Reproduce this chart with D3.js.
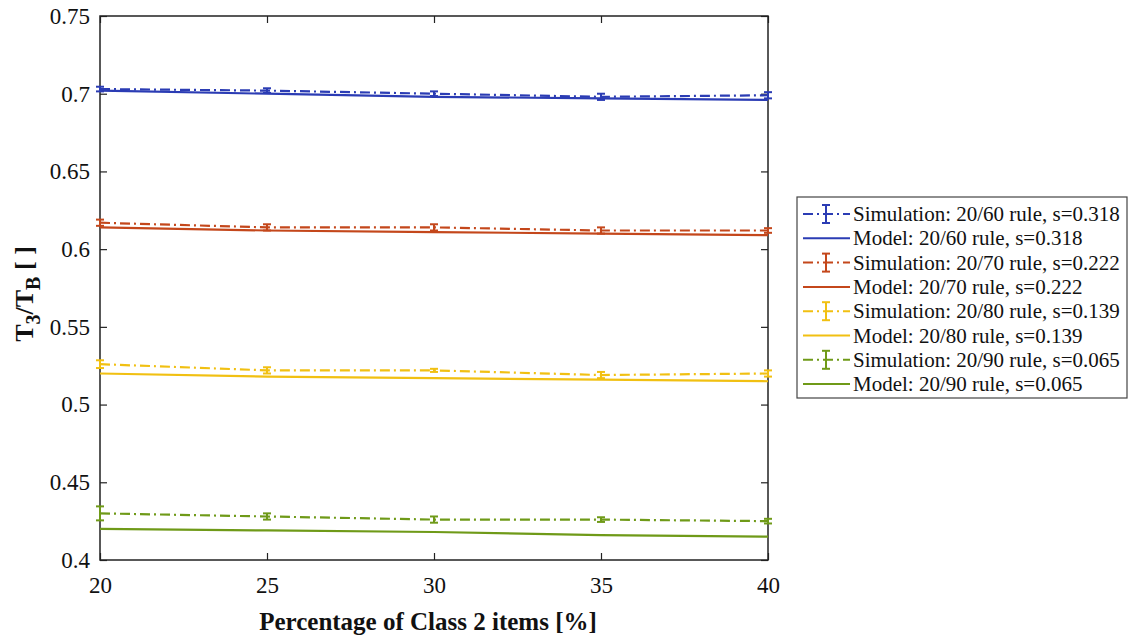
<!DOCTYPE html>
<html>
<head>
<meta charset="utf-8">
<script src="https://cdn.jsdelivr.net/npm/d3@7"></script>
<style>
  body { margin: 0; background: #fff; }
  svg { display: block; }
  svg text { font-family: "Liberation Serif", "DejaVu Serif", serif; }
</style>
</head>
<body>
<svg width="1130" height="639"></svg>
<script>
// data
var xValues = [20, 25, 30, 35, 40];
var simBlue   = [0.703, 0.702, 0.700, 0.698, 0.699];
var modelBlue = [0.702, 0.700, 0.698, 0.697, 0.696];
var errBlue   = [0.0015, 0.0015, 0.0015, 0.002, 0.002];
var simRed    = [0.617, 0.614, 0.614, 0.612, 0.612];
var modelRed  = [0.614, 0.612, 0.611, 0.610, 0.609];
var errRed    = [0.002, 0.002, 0.002, 0.002, 0.0015];
var simYellow   = [0.526, 0.522, 0.522, 0.519, 0.520];
var modelYellow = [0.520, 0.518, 0.517, 0.516, 0.515];
var errYellow   = [0.0025, 0.002, 0.001, 0.002, 0.002];
var simGreen   = [0.430, 0.428, 0.426, 0.426, 0.425];
var modelGreen = [0.420, 0.419, 0.418, 0.416, 0.415];
var errGreen   = [0.0045, 0.002, 0.002, 0.0015, 0.0015];
var yTicks = [0.4, 0.45, 0.5, 0.55, 0.6, 0.65, 0.7, 0.75];
var xTicks = [20, 25, 30, 35, 40];
var legendLabels = [
  'Simulation: 20/60 rule, s=0.318', 'Model: 20/60 rule, s=0.318',
  'Simulation: 20/70 rule, s=0.222', 'Model: 20/70 rule, s=0.222',
  'Simulation: 20/80 rule, s=0.139', 'Model: 20/80 rule, s=0.139',
  'Simulation: 20/90 rule, s=0.065', 'Model: 20/90 rule, s=0.065'
];

var series = [
  {color: '#2b3cb4', sim: simBlue, model: modelBlue, err: errBlue},
  {color: '#c4471b', sim: simRed, model: modelRed, err: errRed},
  {color: '#f1c012', sim: simYellow, model: modelYellow, err: errYellow},
  {color: '#6f9a18', sim: simGreen, model: modelGreen, err: errGreen}
];

var svg = d3.select('svg');
var plotL = 100, plotR = 768, plotT = 16, plotB = 560;

var x = d3.scaleLinear().domain([20, 40]).range([plotL, plotR]);
var y = d3.scaleLinear().domain([0.4, 0.75]).range([plotB, plotT]);

var dashDot = '10,4,2,4';

// axes with inward ticks
var axisG = svg.append('g');
axisG.append('g')
  .attr('transform', 'translate(0,' + plotB + ')')
  .call(d3.axisBottom(x).tickValues(xTicks).tickSizeInner(-7).tickSizeOuter(0).tickPadding(17).tickFormat(d3.format('d')));
axisG.append('g')
  .attr('transform', 'translate(0,' + plotT + ')')
  .call(d3.axisTop(x).tickValues(xTicks).tickSizeInner(-7).tickSizeOuter(0).tickFormat(''));
axisG.append('g')
  .attr('transform', 'translate(' + plotL + ',0)')
  .call(d3.axisLeft(y).tickValues(yTicks).tickSizeInner(-7).tickSizeOuter(0).tickPadding(10)
    .tickFormat(function(d){ return String(+d.toFixed(2)); }));
axisG.append('g')
  .attr('transform', 'translate(' + plotR + ',0)')
  .call(d3.axisRight(y).tickValues(yTicks).tickSizeInner(-7).tickSizeOuter(0).tickFormat(''));
axisG.selectAll('.domain').remove();
axisG.selectAll('g').attr('font-family', 'Liberation Serif').attr('font-size', 23);
axisG.selectAll('line').attr('stroke', '#222').attr('stroke-width', 1.2);
axisG.selectAll('text').attr('fill', '#111');

svg.append('rect')
  .attr('x', plotL).attr('y', plotT)
  .attr('width', plotR - plotL).attr('height', plotB - plotT)
  .attr('fill', 'none').attr('stroke', '#222').attr('stroke-width', 1.5);

var line = d3.line()
  .x(function(d){ return x(d[0]); })
  .y(function(d){ return y(d[1]); });

var plot = svg.append('g');
series.forEach(function(s) {
  plot.append('path')
    .datum(xValues.map(function(v, i){ return [v, s.model[i]]; }))
    .attr('d', line)
    .attr('fill', 'none').attr('stroke', s.color).attr('stroke-width', 2.2);
  plot.append('path')
    .datum(xValues.map(function(v, i){ return [v, s.sim[i]]; }))
    .attr('d', line)
    .attr('fill', 'none').attr('stroke', s.color).attr('stroke-width', 2.2)
    .attr('stroke-dasharray', dashDot);
  var eb = plot.append('g').selectAll('g')
    .data(xValues.map(function(v, i){ return {x: v, y: s.sim[i], e: s.err[i]}; }))
    .enter().append('g')
    .attr('stroke', s.color).attr('stroke-width', 2);
  eb.append('line')
    .attr('x1', function(d){ return x(d.x); }).attr('x2', function(d){ return x(d.x); })
    .attr('y1', function(d){ return y(d.y - d.e); }).attr('y2', function(d){ return y(d.y + d.e); });
  eb.append('line')
    .attr('x1', function(d){ return x(d.x) - 4; }).attr('x2', function(d){ return x(d.x) + 4; })
    .attr('y1', function(d){ return y(d.y - d.e); }).attr('y2', function(d){ return y(d.y - d.e); });
  eb.append('line')
    .attr('x1', function(d){ return x(d.x) - 4; }).attr('x2', function(d){ return x(d.x) + 4; })
    .attr('y1', function(d){ return y(d.y + d.e); }).attr('y2', function(d){ return y(d.y + d.e); });
});

// axis labels
svg.append('text')
  .attr('x', 428).attr('y', 630)
  .attr('text-anchor', 'middle')
  .style('font-size', '25px').attr('font-weight', 'bold').attr('fill', '#111')
  .text('Percentage of Class 2 items [%]');

var yl = svg.append('text')
  .attr('transform', 'translate(33,294) rotate(-90)')
  .attr('text-anchor', 'middle')
  .style('font-size', '26px').attr('font-weight', 'bold').attr('fill', '#111');
yl.append('tspan').text('T');
yl.append('tspan').style('font-size', '20px').attr('dy', 7).text('3');
yl.append('tspan').attr('dy', -7).text('/T');
yl.append('tspan').style('font-size', '20px').attr('dy', 7).text('B');
yl.append('tspan').attr('dy', -7).text(' [ ]');

// legend
var lg = svg.append('g').attr('transform', 'translate(797,197)');
lg.append('rect')
  .attr('width', 330).attr('height', 201)
  .attr('fill', '#fff').attr('stroke', '#444').attr('stroke-width', 1.2);
var rowH = 24.3;
var rows = lg.selectAll('g.row')
  .data(legendLabels)
  .enter().append('g')
  .attr('class', 'row')
  .attr('transform', function(d, i){ return 'translate(0,' + (17 + i * rowH) + ')'; });
rows.each(function(d, i) {
  var g = d3.select(this);
  var c = series[Math.floor(i / 2)].color;
  if (i % 2 === 0) {
    g.append('line').attr('x1', 6).attr('x2', 53).attr('y1', 0).attr('y2', 0)
      .attr('stroke', c).attr('stroke-width', 2).attr('stroke-dasharray', dashDot);
    g.append('line').attr('x1', 29).attr('x2', 29).attr('y1', -9).attr('y2', 9)
      .attr('stroke', c).attr('stroke-width', 2);
    g.append('line').attr('x1', 25).attr('x2', 33).attr('y1', -9).attr('y2', -9)
      .attr('stroke', c).attr('stroke-width', 2);
    g.append('line').attr('x1', 25).attr('x2', 33).attr('y1', 9).attr('y2', 9)
      .attr('stroke', c).attr('stroke-width', 2);
  } else {
    g.append('line').attr('x1', 6).attr('x2', 53).attr('y1', 0).attr('y2', 0)
      .attr('stroke', c).attr('stroke-width', 2);
  }
  g.append('text')
    .attr('x', 56).attr('y', 7)
    .style('font-size', '21px').attr('fill', '#111')
    .text(d);
});
</script>
</body>
</html>
